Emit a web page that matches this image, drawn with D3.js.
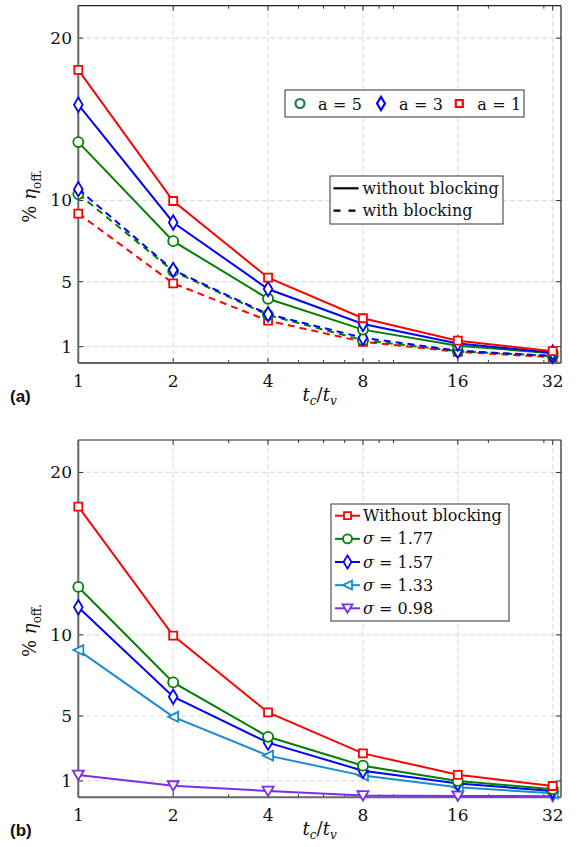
<!DOCTYPE html>
<html>
<head>
<meta charset="utf-8" />
<title>eta off vs tc/tv</title>
<style>
body { margin: 0; background: white; }
svg { display: block; }
</style>
<script src="https://cdn.jsdelivr.net/npm/d3@7"></script>
</head>
<body>
<script>
// ---- data ----
var xValues = [1, 2, 4, 8, 16, 32];
var xTicks = [1, 2, 4, 8, 16, 32];
var yTicks = [1, 5, 10, 20];

// panel (a)
var aLabels = ["a = 5", "a = 3", "a = 1"];
var a5Without = [13.6, 7.5, 3.95, 2.05, 1.06, 0.6];
var a3Without = [15.9, 8.65, 4.55, 2.4, 1.2, 0.63];
var a1Without = [18.05, 9.97, 5.25, 2.75, 1.37, 0.72];
var a5With = [10.4, 5.65, 2.95, 1.4, 0.72, 0.42];
var a3With = [10.7, 5.72, 3.0, 1.55, 0.75, 0.43];
var a1With = [9.2, 4.9, 2.6, 1.3, 0.68, 0.35];
var blockLabels = ["without blocking", "with blocking"];

// panel (b)
var sigmaLabels = ["Without blocking", "1.77", "1.57", "1.33", "0.98"];
var noBlocking = [17.9, 9.95, 5.22, 2.7, 1.38, 0.69];
var s177 = [12.95, 7.07, 3.72, 1.94, 1.0, 0.49];
var s157 = [11.7, 6.19, 3.36, 1.63, 0.85, 0.38];
var s133 = [9.06, 4.95, 2.56, 1.33, 0.61, 0.24];
var s098 = [1.37, 0.71, 0.38, 0.1, 0.08, 0.06];

var red = "#ff0000", blue = "#0000ff", green = "#008000",
    lblue = "#1a8bd0", purple = "#7b2ee6";
var serif = "'DejaVu Serif', serif";

var width = 584, height = 847;
var svg = d3.select("body").append("svg")
  .attr("width", width).attr("height", height)
  .attr("font-family", serif);

// marker shapes
function markerPath(kind, s) {
  var p = d3.path();
  if (kind == "square") { p.rect(-s/2, -s/2, s, s); }
  else if (kind == "circle") { p.arc(0, 0, s/2, 0, 2*Math.PI); }
  else if (kind == "diamond") {
    p.moveTo(0, -s*0.6); p.lineTo(s*0.36, 0); p.lineTo(0, s*0.6); p.lineTo(-s*0.36, 0); p.closePath();
  } else if (kind == "left") {
    p.moveTo(-s/2, 0); p.lineTo(s/2, -s/2); p.lineTo(s/2, s/2); p.closePath();
  } else if (kind == "down") {
    p.moveTo(-s/2, -s*0.4); p.lineTo(s/2, -s*0.4); p.lineTo(0, s*0.45); p.closePath();
  }
  return p.toString();
}

var x = d3.scaleLog().base(2).domain([1, 34]).range([78.3, 561]);
var minorX = [3, 5, 6, 7, 9, 10, 20, 30];

function drawPanel(y0, y1, tag) {
  var y = d3.scaleLinear().domain([0, 22]).range([y0, y1]);
  var g = svg.append("g");

  // grid
  g.selectAll(".gx").data(xTicks.slice(1)).enter().append("line")
    .attr("x1", d => x(d)).attr("x2", d => x(d))
    .attr("y1", y0).attr("y2", y1)
    .attr("stroke", "#dedede").attr("stroke-width", 1.2).attr("stroke-dasharray", "5,3");
  g.selectAll(".gy").data(yTicks).enter().append("line")
    .attr("x1", x(1)).attr("x2", x(34))
    .attr("y1", d => y(d)).attr("y2", d => y(d))
    .attr("stroke", "#dedede").attr("stroke-width", 1.2).attr("stroke-dasharray", "5,3");

  // box: top/right
  g.append("line").attr("x1", x(1)).attr("x2", x(34)).attr("y1", y1).attr("y2", y1)
    .attr("stroke", "#222").attr("stroke-width", 1.2);
  g.append("line").attr("x1", x(34)).attr("x2", x(34)).attr("y1", y0).attr("y2", y1)
    .attr("stroke", "#222").attr("stroke-width", 1.2);

  // ticks (inward, all four sides)
  xTicks.forEach(function(d) {
    g.append("line").attr("x1", x(d)).attr("x2", x(d)).attr("y1", y0).attr("y2", y0 - 5)
      .attr("stroke", "#333").attr("stroke-width", 1);
    g.append("line").attr("x1", x(d)).attr("x2", x(d)).attr("y1", y1).attr("y2", y1 + 5)
      .attr("stroke", "#333").attr("stroke-width", 1);
  });
  minorX.forEach(function(d) {
    g.append("line").attr("x1", x(d)).attr("x2", x(d)).attr("y1", y0).attr("y2", y0 - 3)
      .attr("stroke", "#333").attr("stroke-width", 1);
    g.append("line").attr("x1", x(d)).attr("x2", x(d)).attr("y1", y1).attr("y2", y1 + 3)
      .attr("stroke", "#333").attr("stroke-width", 1);
  });
  yTicks.forEach(function(d) {
    g.append("line").attr("x1", x(1)).attr("x2", x(1) + 5).attr("y1", y(d)).attr("y2", y(d))
      .attr("stroke", "#333").attr("stroke-width", 1);
    g.append("line").attr("x1", x(34)).attr("x2", x(34) - 5).attr("y1", y(d)).attr("y2", y(d))
      .attr("stroke", "#333").attr("stroke-width", 1);
  });

  // left / bottom axis lines
  g.append("line").attr("x1", x(1)).attr("x2", x(1)).attr("y1", y0).attr("y2", y1)
    .attr("stroke", "#666").attr("stroke-width", 2);
  g.append("line").attr("x1", x(1)).attr("x2", x(34)).attr("y1", y0).attr("y2", y0)
    .attr("stroke", "#666").attr("stroke-width", 2);

  // tick labels
  g.selectAll(".yl").data(yTicks).enter().append("text")
    .attr("x", 72).attr("y", d => y(d)).attr("dy", "0.35em")
    .attr("text-anchor", "end").attr("font-size", 17).attr("fill", "#111").text(d => d);
  g.selectAll(".xl").data(xTicks).enter().append("text")
    .attr("x", d => x(d)).attr("y", y0 + 24)
    .attr("text-anchor", "middle").attr("font-size", 17).attr("fill", "#111").text(d => d);

  // axis labels
  var xl = g.append("text").attr("x", (x(1) + x(34)) / 2).attr("y", y0 + 38)
    .attr("text-anchor", "middle").attr("font-size", 18).attr("fill", "#111");
  xl.append("tspan").attr("font-style", "italic").text("t");
  xl.append("tspan").attr("font-style", "italic").attr("font-size", 12).attr("dy", 4).text("c");
  xl.append("tspan").attr("dy", -4).text("/");
  xl.append("tspan").attr("font-style", "italic").text("t");
  xl.append("tspan").attr("font-style", "italic").attr("font-size", 12).attr("dy", 4).text("v");

  var yl = g.append("text")
    .attr("transform", "translate(36," + ((y0 + y1) / 2 + 12) + ") rotate(-90)")
    .attr("text-anchor", "middle").attr("font-size", 18).attr("fill", "#111");
  yl.append("tspan").text("% ");
  yl.append("tspan").attr("font-style", "italic").text("η");
  yl.append("tspan").attr("font-size", 12).attr("dy", 5).text("off.");

  g.append("text").attr("x", 10).attr("y", y0 + 39)
    .attr("font-family", "'Liberation Sans', Arial, sans-serif").attr("font-weight", "bold")
    .attr("font-size", 17).attr("fill", "#111").text(tag);

  return y;
}

function drawSeries(y, values, color, kind, size, dashed) {
  var line = d3.line().x((d, i) => x(xValues[i])).y(d => y(d));
  svg.append("path").datum(values).attr("d", line)
    .attr("fill", "none").attr("stroke", color).attr("stroke-width", 2)
    .attr("stroke-dasharray", dashed ? "7,5" : null);
  svg.append("g").selectAll("path").data(values).enter().append("path")
    .attr("d", markerPath(kind, size))
    .attr("transform", (d, i) => "translate(" + x(xValues[i]) + "," + y(d) + ")")
    .attr("fill", "white").attr("stroke", color).attr("stroke-width", 1.8);
}

// ---- panel (a) ----
var ya = drawPanel(362.9, 5.7, "(a)");
drawSeries(ya, a1With, red, "square", 8, true);
drawSeries(ya, a5With, green, "circle", 10, true);
drawSeries(ya, a3With, blue, "diamond", 12, true);
drawSeries(ya, a5Without, green, "circle", 10, false);
drawSeries(ya, a3Without, blue, "diamond", 12, false);
drawSeries(ya, a1Without, red, "square", 8, false);

// legend: a values
var lg1 = svg.append("g");
lg1.append("rect").attr("x", 285).attr("y", 90).attr("width", 239).attr("height", 27)
  .attr("fill", "white").attr("stroke", "#333").attr("stroke-width", 1);
var aKinds = [["circle", "#217a4b", 9], ["diamond", blue, 11], ["square", red, 7]];
var aPos = [300, 381, 459.3];
aLabels.forEach(function(t, i) {
  lg1.append("path").attr("d", markerPath(aKinds[i][0], aKinds[i][2]))
    .attr("transform", "translate(" + aPos[i] + ",103.5)")
    .attr("fill", "white").attr("stroke", aKinds[i][1]).attr("stroke-width", 2.2);
  lg1.append("text").attr("x", aPos[i] + 18).attr("y", 109.5).attr("font-size", 16)
    .attr("fill", "#111").attr("textLength", 44).attr("lengthAdjust", "spacing").text(t);
});

// legend: blocking
var lg2 = svg.append("g");
lg2.append("rect").attr("x", 330).attr("y", 176).attr("width", 173).attr("height", 48)
  .attr("fill", "white").attr("stroke", "#333").attr("stroke-width", 1);
blockLabels.forEach(function(t, i) {
  var yy = 188.3 + i * 22.4;
  lg2.append("line").attr("x1", 333.5).attr("x2", 358.5).attr("y1", yy).attr("y2", yy)
    .attr("stroke", "#000").attr("stroke-width", 2.2)
    .attr("stroke-dasharray", i == 1 ? "7,8" : null);
  lg2.append("text").attr("x", 362.5).attr("y", yy + 5.5).attr("font-size", 16)
    .attr("fill", "#111").text(t);
});

// ---- panel (b) ----
var yb = drawPanel(797.2, 440, "(b)");
var bSeries = [
  [noBlocking, red, "square", 8],
  [s177, green, "circle", 10],
  [s157, blue, "diamond", 12],
  [s133, lblue, "left", 10],
  [s098, purple, "down", 11]
];
bSeries.slice().reverse().forEach(function(s) { drawSeries(yb, s[0], s[1], s[2], s[3], false); });

var lg3 = svg.append("g");
lg3.append("rect").attr("x", 331).attr("y", 504).attr("width", 178).attr("height", 117)
  .attr("fill", "white").attr("stroke", "#333").attr("stroke-width", 1);
sigmaLabels.forEach(function(t, i) {
  var yy = 515.7 + i * 23.15;
  var s = bSeries[i];
  lg3.append("line").attr("x1", 335).attr("x2", 360).attr("y1", yy).attr("y2", yy)
    .attr("stroke", s[1]).attr("stroke-width", 2);
  lg3.append("path").attr("d", markerPath(s[2], s[3] - 1))
    .attr("transform", "translate(347.5," + yy + ")")
    .attr("fill", "white").attr("stroke", s[1]).attr("stroke-width", 1.8);
  var tx = lg3.append("text").attr("x", 363).attr("y", yy + 5.5).attr("font-size", 16)
    .attr("fill", "#111");
  if (i == 0) { tx.text(t); }
  else {
    tx.append("tspan").attr("font-style", "italic").text("σ");
    tx.append("tspan").text(" = " + t);
  }
});
</script>
</body>
</html>
